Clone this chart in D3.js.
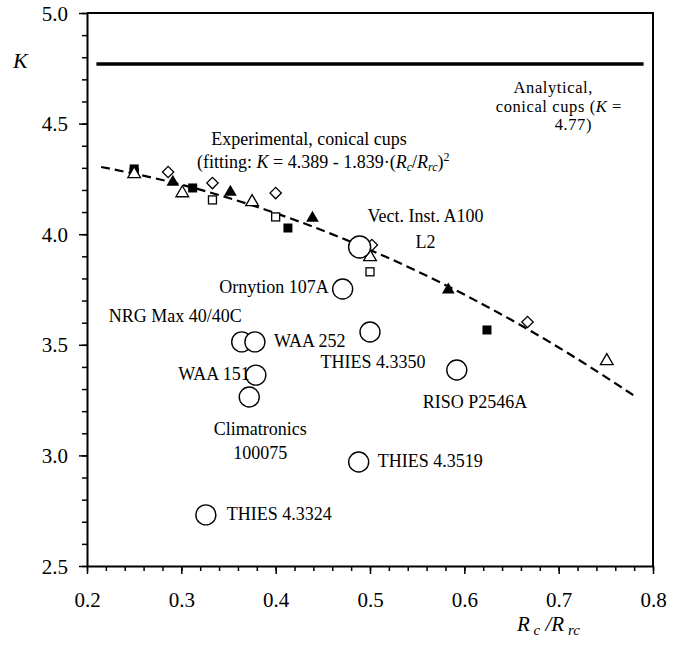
<!DOCTYPE html>
<html>
<head>
<meta charset="utf-8">
<script src="https://cdn.jsdelivr.net/npm/d3@7"></script>
<style>
  html, body { margin: 0; padding: 0; background: #fff; }
  svg { display: block; font-family: "Liberation Serif", "Times New Roman", serif; }
</style>
</head>
<body>
<svg id="chart" width="686" height="658"></svg>
<script>
// ---- data ----
const xTicks = [0.2, 0.3, 0.4, 0.5, 0.6, 0.7, 0.8];
const yTicks = [2.5, 3.0, 3.5, 4.0, 4.5, 5.0];

const analyticalK = 4.77;
const analyticalRange = [0.21, 0.79];

// dashed fitting curve
const fitX = [0.215, 0.30, 0.40, 0.50, 0.60, 0.70, 0.78];
const fitK = [4.304, 4.224, 4.095, 3.929, 3.727, 3.488, 3.270];

const openSquareX = [0.25, 0.333, 0.40, 0.50];
const openSquareK = [4.28, 4.155, 4.078, 3.83];
const filledSquareX = [0.25, 0.312, 0.413, 0.624];
const filledSquareK = [4.295, 4.209, 4.028, 3.567];
const openTriangleX = [0.25, 0.301, 0.375, 0.50, 0.751];
const openTriangleK = [4.272, 4.186, 4.146, 3.897, 3.427];
const filledTriangleX = [0.291, 0.352, 0.439, 0.583];
const filledTriangleK = [4.236, 4.19, 4.073, 3.748];
const openDiamondX = [0.286, 0.333, 0.40, 0.502, 0.667];
const openDiamondK = [4.281, 4.231, 4.186, 3.951, 3.603];

const anemometerNames = ["Vect. Inst. A100|L2", "Ornytion 107A", "NRG Max 40/40C", "WAA 252",
  "THIES 4.3350", "WAA 151", "Climatronics|100075", "RISO P2546A", "THIES 4.3519", "THIES 4.3324"];
const anemometerX = [0.489, 0.471, 0.364, 0.378, 0.500, 0.379, 0.372, 0.592, 0.488, 0.326];
const anemometerK = [3.942, 3.752, 3.513, 3.513, 3.558, 3.363, 3.264, 3.386, 2.970, 2.731];

// ---- layout (label placement relative to each circle, in px) ----
const labelLayout = [
  {anchor: "middle", dx: 66, dy: [-25, 1]},
  {anchor: "end", dx: -14, dy: [4]},
  {anchor: "end", dx: 0, dy: [-20]},
  {anchor: "start", dx: 19, dy: [5]},
  {anchor: "middle", dx: 3, dy: [36]},
  {anchor: "end", dx: -6, dy: [5]},
  {anchor: "middle", dx: 11, dy: [38, 62]},
  {anchor: "start", dx: -34, dy: [38]},
  {anchor: "start", dx: 19, dy: [5]},
  {anchor: "start", dx: 21, dy: [5]}
];

const svg = d3.select("#chart");
const W = 686, H = 658;
const m = {left: 87, right: 33, top: 13, bottom: 92};
const x = d3.scaleLinear().domain([0.2, 0.8]).range([m.left, W - m.right]);
const y = d3.scaleLinear().domain([2.5, 5.0]).range([H - m.bottom, m.top]);
const FS = 18;

// frame (top and right)
svg.append("path")
  .attr("d", `M${x(0.2)},${y(5)}H${x(0.8)}V${y(2.5)}`)
  .attr("fill", "none").attr("stroke", "#000").attr("stroke-width", 2);

// minor ticks
const xMinor = d3.range(0.2, 0.8001, 0.02).map(v => +v.toFixed(2));
const yMinor = d3.range(2.5, 5.0001, 0.1).map(v => +v.toFixed(1));
svg.append("g").attr("transform", `translate(0,${y(2.5)})`)
  .call(d3.axisBottom(x).tickValues(xMinor).tickSize(5).tickFormat(""))
  .call(g => g.select(".domain").remove())
  .selectAll("line").attr("stroke-width", 1.5);
svg.append("g").attr("transform", `translate(${x(0.2)},0)`)
  .call(d3.axisLeft(y).tickValues(yMinor).tickSize(5).tickFormat(""))
  .call(g => g.select(".domain").remove())
  .selectAll("line").attr("stroke-width", 1.5);

// major axes
const gx = svg.append("g").attr("transform", `translate(0,${y(2.5)})`)
  .call(d3.axisBottom(x).tickValues(xTicks).tickSize(8).tickSizeOuter(0).tickFormat(d3.format(".1f")));
gx.select(".domain").attr("stroke-width", 2);
gx.selectAll("line").attr("stroke-width", 1.5);
gx.selectAll("text").attr("y", 41).attr("dy", 0).attr("font-size", 21)
  .attr("font-family", "Liberation Serif, serif").attr("fill", "#000");

const gy = svg.append("g").attr("transform", `translate(${x(0.2)},0)`)
  .call(d3.axisLeft(y).tickValues(yTicks).tickSize(8).tickSizeOuter(0).tickFormat(d3.format(".1f")));
gy.select(".domain").attr("stroke-width", 2);
gy.selectAll("line").attr("stroke-width", 1.5);
gy.selectAll("text").attr("x", -19).attr("dy", "0.34em").attr("font-size", 21)
  .attr("font-family", "Liberation Serif, serif").attr("fill", "#000");

// axis titles
svg.append("text").attr("x", 13).attr("y", 68).attr("font-size", 22)
  .attr("font-style", "italic").text("K");
const xt = svg.append("text").attr("x", 517).attr("y", 631).attr("font-size", 21).attr("font-style", "italic");
xt.append("tspan").text("R");
xt.append("tspan").attr("font-size", 15).attr("dy", 4).text(" c");
xt.append("tspan").attr("dy", -4).text(" /R");
xt.append("tspan").attr("font-size", 15).attr("dy", 4).text(" rc");

// analytical line
svg.append("line")
  .attr("x1", x(analyticalRange[0])).attr("x2", x(analyticalRange[1]))
  .attr("y1", y(analyticalK)).attr("y2", y(analyticalK))
  .attr("stroke", "#000").attr("stroke-width", 3.5);

// fitting curve
const fitPts = fitX.map((v, i) => [v, fitK[i]]);
svg.append("path").datum(fitPts)
  .attr("d", d3.line().x(d => x(d[0])).y(d => y(d[1])).curve(d3.curveNatural))
  .attr("fill", "none").attr("stroke", "#000").attr("stroke-width", 2.2)
  .attr("stroke-dasharray", "9,5");

// markers
function pts(xs, ks) { return xs.map((v, i) => [x(v), y(ks[i])]); }
const gm = svg.append("g");
gm.selectAll(".osq").data(pts(openSquareX, openSquareK)).join("rect")
  .attr("x", d => d[0] - 4).attr("y", d => d[1] - 4).attr("width", 8).attr("height", 8)
  .attr("fill", "#fff").attr("stroke", "#000").attr("stroke-width", 1.3);
gm.selectAll(".fsq").data(pts(filledSquareX, filledSquareK)).join("rect")
  .attr("x", d => d[0] - 4.5).attr("y", d => d[1] - 4.5).attr("width", 9).attr("height", 9)
  .attr("fill", "#000");
const tri = d3.symbol().type(d3.symbolTriangle).size(70);
gm.selectAll(".otr").data(pts(openTriangleX, openTriangleK)).join("path")
  .attr("transform", d => `translate(${d[0]},${d[1]})`).attr("d", tri)
  .attr("fill", "#fff").attr("stroke", "#000").attr("stroke-width", 1.3);
gm.selectAll(".ftr").data(pts(filledTriangleX, filledTriangleK)).join("path")
  .attr("transform", d => `translate(${d[0]},${d[1]})`).attr("d", tri)
  .attr("fill", "#000");
gm.selectAll(".odm").data(pts(openDiamondX, openDiamondK)).join("path")
  .attr("transform", d => `translate(${d[0]},${d[1]}) rotate(45)`)
  .attr("d", "M-4,-4H4V4H-4Z")
  .attr("fill", "#fff").attr("stroke", "#000").attr("stroke-width", 1.3);

// anemometer circles + labels
const ga = svg.append("g");
anemometerNames.forEach((name, i) => {
  const cx = x(anemometerX[i]), cy = y(anemometerK[i]);
  ga.append("circle").attr("cx", cx).attr("cy", cy).attr("r", i === 0 ? 11 : 10)
    .attr("fill", "#fff").attr("stroke", "#000").attr("stroke-width", 1.4);
  const L = labelLayout[i];
  name.split("|").forEach((line, j) => {
    ga.append("text").attr("x", cx + L.dx).attr("y", cy + L.dy[j])
      .attr("text-anchor", L.anchor).attr("font-size", FS).text(line);
  });
});

// annotations
svg.append("text").attr("x", 309).attr("y", 145).attr("text-anchor", "middle")
  .attr("font-size", FS).text("Experimental, conical cups");
const ft = svg.append("text").attr("x", 197).attr("y", 168).attr("font-size", FS);
ft.append("tspan").text("(fitting: ");
ft.append("tspan").attr("font-style", "italic").text("K");
ft.append("tspan").text(" = 4.389 - 1.839\u00B7(");
ft.append("tspan").attr("font-style", "italic").text("R");
ft.append("tspan").attr("font-size", 12).attr("dy", 3).attr("font-style", "italic").text("c");
ft.append("tspan").attr("dy", -3).text("/");
ft.append("tspan").attr("font-style", "italic").text("R");
ft.append("tspan").attr("font-size", 12).attr("dy", 3).attr("font-style", "italic").text("rc");
ft.append("tspan").attr("dy", -3).text(")");
ft.append("tspan").attr("font-size", 12).attr("dy", -7).text("2");

const AFS = 16.5;
svg.append("text").attr("x", 593).attr("y", 93).attr("text-anchor", "end")
  .attr("font-size", AFS).attr("letter-spacing", 0.6).text("Analytical,");
const an = svg.append("text").attr("x", 622).attr("y", 111.5).attr("text-anchor", "end")
  .attr("font-size", AFS).attr("letter-spacing", 0.6);
an.append("tspan").text("conical cups (");
an.append("tspan").attr("font-style", "italic").text("K");
an.append("tspan").text(" =");
svg.append("text").attr("x", 592).attr("y", 130).attr("text-anchor", "end")
  .attr("font-size", AFS).attr("letter-spacing", 0.6).text("4.77)");
</script>
</body>
</html>
